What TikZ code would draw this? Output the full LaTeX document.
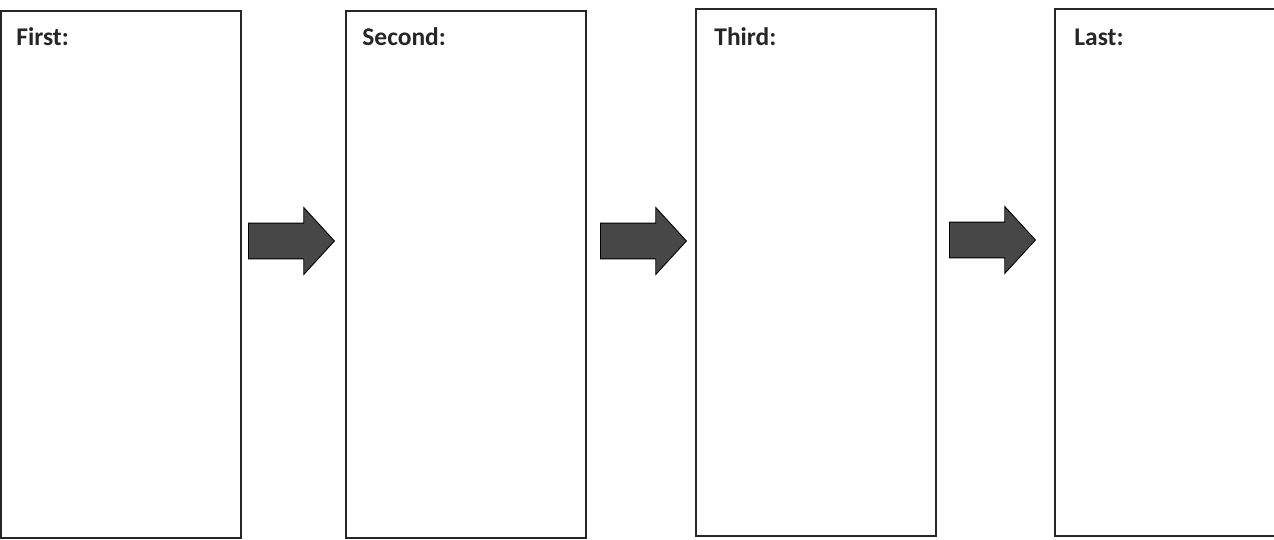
\documentclass[tikz,border=0pt]{standalone}
\usepackage{fontspec}
\setmainfont{Carlito}
\usetikzlibrary{
  shapes.arrows, % block arrows between the stages
  positioning
}
\tikzset{
  stage box/.style={
    draw=black!85,
    line width=1.1pt,
    minimum width=4.8cm,
    minimum height=10.56cm,
    inner sep=0pt
  },
  stage label/.style={
    anchor=base west,
    inner sep=0pt,
    font=\fontsize{14.5}{17}\selectfont\bfseries,
    text=black!85
  },
  flow arrow/.style={
    single arrow,
    anchor=tail,
    draw=black,
    line width=0.5pt,
    fill=black!72,
    minimum height=1.72cm,
    minimum width=1.32cm,
    single arrow head extend=0.31cm,
    single arrow tip angle=95,
    inner xsep=0pt,
    inner ysep=0.35cm
  }
}

\begin{document}
\begin{tikzpicture}[x=0.02cm, y=-0.02cm]
  \useasboundingbox (0,0) rectangle (1274,540);

  % --- the four stage boxes ---
  \node[stage box] (first)  at (121,274.5) {};
  \node[stage box] (second) at (466,274.5) {};
  \node[stage box] (third)  at (816,272.5) {};
  \node[stage box] (last)   at (1175,272.5) {};

  % --- box titles ---
  \node[stage label, xshift=16*0.02cm, yshift=-36*0.02cm] (firstlbl)  at (first.north west)  {First:};
  \node[stage label, xshift=17*0.02cm, yshift=-36*0.02cm] (secondlbl) at (second.north west) {Second:};
  \node[stage label, xshift=19*0.02cm, yshift=-38*0.02cm] (thirdlbl)  at (third.north west)  {Third:};
  \node[stage label, xshift=20*0.02cm, yshift=-38*0.02cm] (lastlbl)   at (last.north west)   {Last:};

  % --- arrows between the boxes ---
  \node[flow arrow] (arrowA) at (248,241) {};
  \node[flow arrow] (arrowB) at (600,241) {};
  \node[flow arrow] (arrowC) at (949,240) {};
\end{tikzpicture}
\end{document}
